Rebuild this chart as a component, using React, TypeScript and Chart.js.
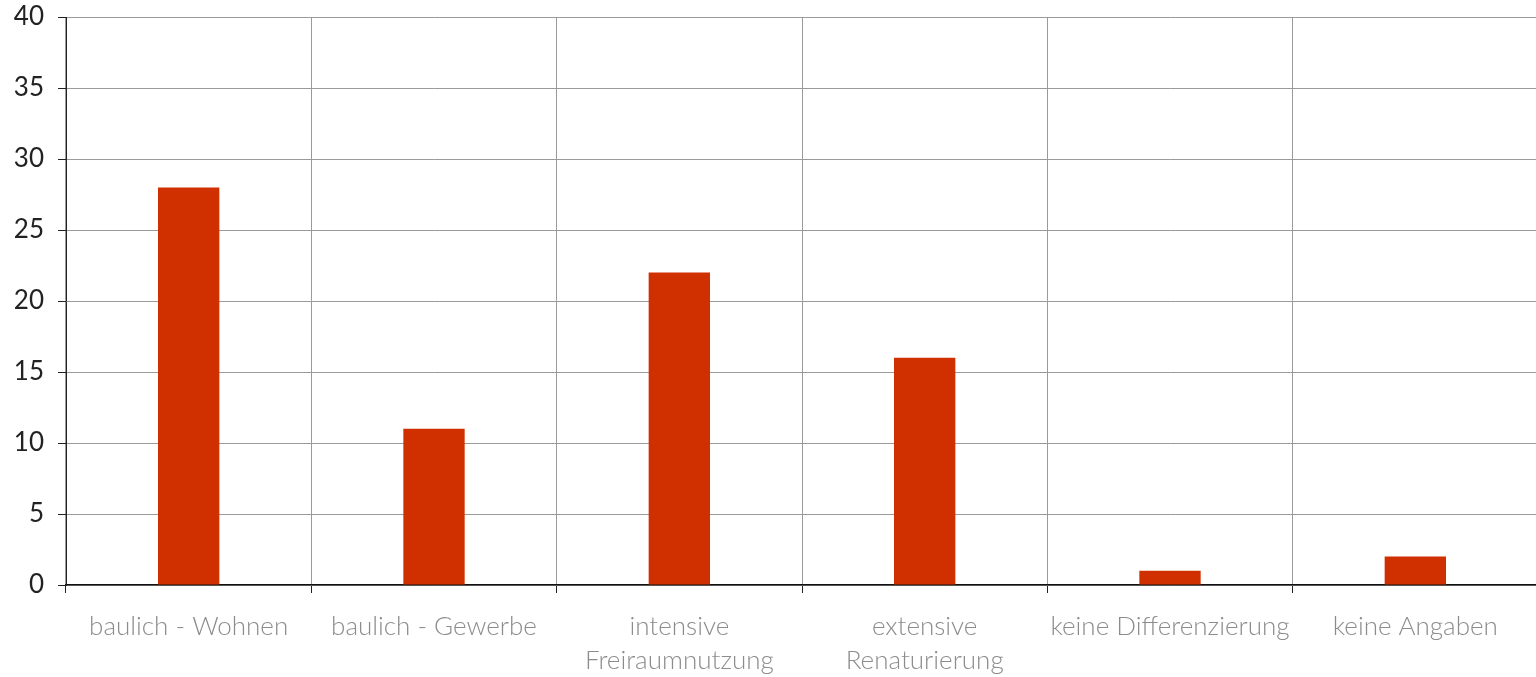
import React, { useEffect, useRef } from "react";
import { Chart, registerables } from "chart.js";

Chart.register(...registerables);

const categories: (string | string[])[] = [
  "baulich - Wohnen",
  "baulich - Gewerbe",
  ["intensive", "Freiraumnutzung"],
  ["extensive", "Renaturierung"],
  "keine Differenzierung",
  "keine Angaben",
];
const values = [28, 11, 22, 16, 1, 2];
const yMin = 0;
const yMax = 40;
const yStep = 5;

export default function App() {
  const ref = useRef<HTMLCanvasElement>(null);
  useEffect(() => {
    document.body.style.margin = "0";
    const ctx = ref.current!;
    const chart = new Chart(ctx, {
      type: "bar",
      data: {
        labels: categories,
        datasets: [
          {
            data: values,
            backgroundColor: "#D03000",
            borderWidth: 0,
            categoryPercentage: 1,
            barPercentage: 0.25,
          },
        ],
      },
      options: {
        animation: false,
        responsive: false,
        maintainAspectRatio: false,
        layout: { padding: { top: 17, right: 0, left: 0, bottom: 0 } },
        plugins: { legend: { display: false }, tooltip: { enabled: false } },
        scales: {
          x: {
            grid: {
              offset: true,
              color: "#9a9a9a",
              lineWidth: 1,
              tickColor: "#222",
              tickLength: 8,
              drawTicks: true,
            },
            border: { color: "#111", width: 1.5 },
            ticks: {
              color: "#8c8c8c",
              font: { family: "Lato", size: 26, weight: "300", lineHeight: 1.3 },
              padding: 17,
              maxRotation: 0,
              autoSkip: false,
            },
            afterFit: (s: any) => {
              s.height = 92;
              s.paddingLeft = 0;
              s.paddingRight = 0;
            },
          },
          y: {
            min: yMin,
            max: yMax,
            ticks: {
              stepSize: yStep,
              color: "#222",
              font: { family: "Lato", size: 26, weight: "400" },
              padding: 14,
            },
            grid: {
              color: "#9a9a9a",
              tickColor: "#222",
              tickLength: 8,
            },
            border: { color: "#222", width: 1 },
            afterFit: (s: any) => {
              s.width = 66;
              s.paddingTop = 0;
              s.paddingBottom = 0;
            },
          },
        },
      },
    });
    return () => chart.destroy();
  }, []);
  return (
    <div style={{ width: 1536, height: 677, overflow: "hidden" }}>
      <canvas ref={ref} width={1538} height={677} style={{ display: "block" }} />
    </div>
  );
}
